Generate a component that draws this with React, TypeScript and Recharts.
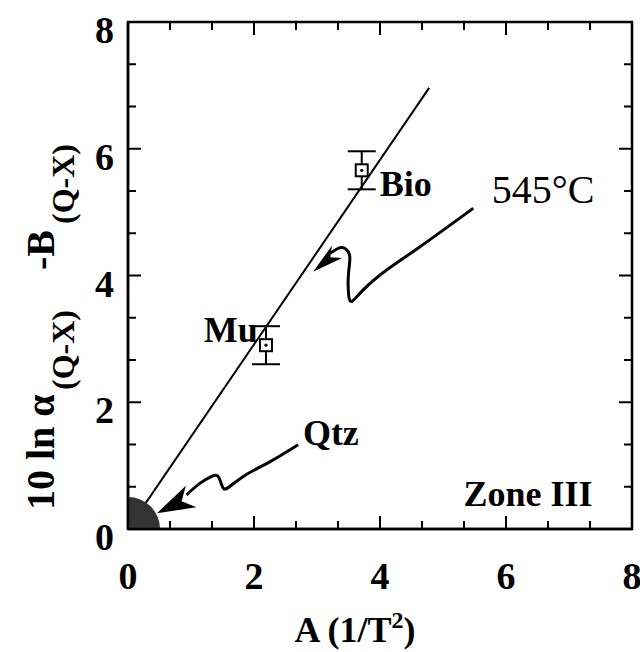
import React from "react";
import {
  ComposedChart,
  Line,
  Scatter,
  XAxis,
  YAxis,
  ErrorBar,
  ReferenceDot,
  ReferenceArea,
} from "recharts";

// === data ===
const AXIS_TICKS = [0, 2 / 3, 4 / 3, 2, 8 / 3, 10 / 3, 4, 14 / 3, 16 / 3, 6, 20 / 3, 22 / 3, 8];
const LABELED_TICKS = [0, 2, 4, 6, 8];
const AXIS_MIN = 0;
const AXIS_MAX = 8;

// minerals with 1-sigma error in y
const minerals = [
  { x: 2.19, y: 2.9, err: 0.3 },
  { x: 3.71, y: 5.66, err: 0.3 },
];

// fitted isotherm (545°C)
const fitLine = [
  { x: 0, y: 0 },
  { x: 4.78, y: 6.96 },
];

// hand-drawn arrow "545°C" -> isotherm
const arrow545 = [
  { x: 5.48, y: 5.06 },
  { x: 4.63, y: 4.45 },
  { x: 4.11, y: 4.09 },
  { x: 3.73, y: 3.77 },
  { x: 3.55, y: 3.59 },
  { x: 3.5, y: 3.72 },
  { x: 3.5, y: 4.03 },
  { x: 3.52, y: 4.3 },
  { x: 3.44, y: 4.43 },
  { x: 3.34, y: 4.43 },
  { x: 3.21, y: 4.35 },
];
const arrow545Tip = [{ x: 2.94, y: 4.06 }];

// hand-drawn arrow "Qtz" -> origin blob
const arrowQtz = [
  { x: 2.7, y: 1.33 },
  { x: 2.25, y: 1.06 },
  { x: 1.83, y: 0.83 },
  { x: 1.57, y: 0.64 },
  { x: 1.49, y: 0.69 },
  { x: 1.43, y: 0.83 },
  { x: 1.33, y: 0.83 },
  { x: 1.14, y: 0.72 },
  { x: 0.93, y: 0.54 },
];
const arrowQtzTip = [{ x: 0.46, y: 0.25 }];

const boldNotes = [
  { x: 4.41, y: 5.44, text: "Bio" },
  { x: 1.63, y: 3.14, text: "Mu" },
  { x: 3.22, y: 1.51, text: "Qtz" },
  { x: 6.35, y: 0.56, text: "Zone III" },
];
const plainNotes = [{ x: 6.59, y: 5.35, text: "545°C" }];

// === layout ===
const W = 640;
const H = 652;
const PLOT = { left: 128, right: 632, top: 22, bottom: 529 };
const FONT = "'Liberation Serif', 'Times New Roman', serif";
const INK = "#000";

const isLabeled = (v: number) => LABELED_TICKS.some((t) => Math.abs(t - v) < 1e-6);

// frame + inward ticks on all four sides; x/y/width/height come from the
// axis scales via ReferenceArea (x1..x2, y1..y2 = the full domain)
const FrameWithTicks = (props: any) => {
  const { x, y, width, height } = props;
  const span = AXIS_MAX - AXIS_MIN;
  let d = "";
  AXIS_TICKS.forEach((v) => {
    const len = isLabeled(v) ? 13 : 8;
    const px = x + ((v - AXIS_MIN) / span) * width;
    const py = y + height - ((v - AXIS_MIN) / span) * height;
    d += `M${x},${py}h${len}`;
    d += `M${x + width},${py}h${-len}`;
    d += `M${px},${y + height}v${-len}`;
    d += `M${px},${y}v${len}`;
  });
  return (
    <g>
      <rect x={x} y={y} width={width} height={height} fill="none" stroke={INK} strokeWidth={2.5} />
      <path d={d} stroke={INK} strokeWidth={2} fill="none" />
    </g>
  );
};

const YTickLabel = (props: any) => {
  const { payload } = props;
  if (!isLabeled(payload.value)) return <g />;
  return (
    <text x={PLOT.left - 14} y={payload.coordinate + 21} textAnchor="end" fontFamily={FONT} fontWeight="bold" fontSize={38} fill={INK}>
      {Math.round(payload.value)}
    </text>
  );
};

const XTickLabel = (props: any) => {
  const { payload } = props;
  if (!isLabeled(payload.value)) return <g />;
  return (
    <text x={payload.coordinate} y={PLOT.bottom + 60} textAnchor="middle" fontFamily={FONT} fontWeight="bold" fontSize={38} fill={INK}>
      {Math.round(payload.value)}
    </text>
  );
};

const XTitle = () => (
  <text x={355} y={642} textAnchor="middle" fontFamily={FONT} fontWeight="bold" fontSize={36} fill={INK}>
    A (1/T
    <tspan fontSize={24} dy={-14}>2</tspan>
    <tspan dy={14}>)</tspan>
  </text>
);

const YTitle = () => (
  <text transform="translate(54, 510) rotate(-90)" fontFamily={FONT} fontWeight="bold" fontSize={40} fill={INK}>
    <tspan x={0} y={0}>10 ln α</tspan>
    <tspan x={120} y={20} fontSize={32}>(Q-X)</tspan>
    <tspan x={240} y={0}>-B</tspan>
    <tspan x={286} y={20} fontSize={32}>(Q-X)</tspan>
  </text>
);

const MineralMarker = (props: any) => {
  const { cx, cy } = props;
  return (
    <g>
      <rect x={cx - 6} y={cy - 6} width={12} height={12} fill="#fff" stroke={INK} strokeWidth={2} />
      <circle cx={cx} cy={cy} r={1.6} fill={INK} />
    </g>
  );
};

const makeArrowHead = (angle: number, length: number, width: number) => (props: any) => {
  const { cx, cy } = props;
  const pts = `0,0 ${-length},${-width / 2} ${-length * 0.72},0 ${-length},${width / 2}`;
  return <polygon points={pts} transform={`translate(${cx},${cy}) rotate(${angle})`} fill={INK} />;
};

const makeNote = (bold: boolean, size: number) => (props: any) => (
  <text
    x={props.cx}
    y={props.cy}
    textAnchor="middle"
    dominantBaseline="central"
    fontFamily={FONT}
    fontWeight={bold ? "bold" : "normal"}
    fontSize={size}
    fill={INK}
  >
    {props.payload.text}
  </text>
);

const axisLine = { stroke: INK, strokeWidth: 2.5 };

export default function App() {
  return (
    <div style={{ width: W, height: H, background: "#fff" }}>
      <style>{"body{margin:0}"}</style>
      <ComposedChart width={W} height={H} margin={{ top: 22, right: 8, bottom: 63, left: 0 }}>
        <XAxis
          xAxisId="b"
          dataKey="x"
          type="number"
          domain={[AXIS_MIN, AXIS_MAX]}
          ticks={AXIS_TICKS}
          interval={0}
          height={60}
          axisLine={axisLine}
          tickLine={false}
          tick={(p: any) => <XTickLabel {...p} />}
          label={<XTitle />}
        />
        <YAxis
          yAxisId="l"
          dataKey="y"
          type="number"
          domain={[AXIS_MIN, AXIS_MAX]}
          ticks={AXIS_TICKS}
          interval={0}
          width={128}
          axisLine={axisLine}
          tickLine={false}
          tick={(p: any) => <YTickLabel {...p} />}
          label={<YTitle />}
        />

        <Line xAxisId="b" yAxisId="l" data={fitLine} dataKey="y" stroke={INK} strokeWidth={2} dot={false} isAnimationActive={false} />
        <Line xAxisId="b" yAxisId="l" data={arrow545} dataKey="y" type="natural" stroke={INK} strokeWidth={3} dot={false} isAnimationActive={false} />
        <Line xAxisId="b" yAxisId="l" data={arrowQtz} dataKey="y" type="natural" stroke={INK} strokeWidth={3} dot={false} isAnimationActive={false} />

        <Scatter xAxisId="b" yAxisId="l" data={arrow545Tip} shape={makeArrowHead(140, 31, 16)} isAnimationActive={false} />
        <Scatter xAxisId="b" yAxisId="l" data={arrowQtzTip} shape={makeArrowHead(154, 38, 24)} isAnimationActive={false} />

        <ReferenceDot xAxisId="b" yAxisId="l" x={0} y={0} r={32} fill="#333" stroke="none" ifOverflow="hidden" />

        <Scatter xAxisId="b" yAxisId="l" data={minerals} shape={MineralMarker} isAnimationActive={false}>
          <ErrorBar dataKey="err" direction="y" width={14} stroke={INK} strokeWidth={2} />
        </Scatter>

        <Scatter xAxisId="b" yAxisId="l" data={boldNotes} shape={makeNote(true, 36)} isAnimationActive={false} />
        <Scatter xAxisId="b" yAxisId="l" data={plainNotes} shape={makeNote(false, 40)} isAnimationActive={false} />

        <ReferenceArea
          xAxisId="b"
          yAxisId="l"
          x1={AXIS_MIN}
          x2={AXIS_MAX}
          y1={AXIS_MIN}
          y2={AXIS_MAX}
          ifOverflow="visible"
          shape={FrameWithTicks}
          {...({ zIndex: 2000 } as any)}
        />
      </ComposedChart>
    </div>
  );
}
